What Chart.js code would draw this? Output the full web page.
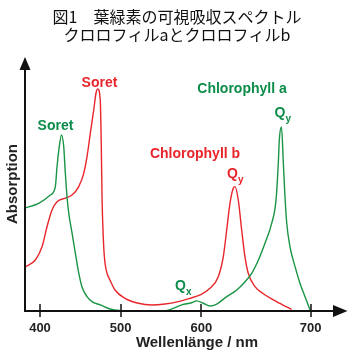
<!DOCTYPE html>
<html><head><meta charset="utf-8">
<script src="https://cdn.jsdelivr.net/npm/chart.js@4/dist/chart.umd.min.js"></script>
<style>html,body{margin:0;padding:0;background:#fff}#wrap{width:354px;height:359px;position:relative}</style>
</head><body><div id="wrap"><canvas id="c"></canvas></div>
<script>
const TITLE_LINES = ['図1　葉緑素の可視吸収スペクトル', 'クロロフィルaとクロロフィルb'];
const X_TICKS = [400, 500, 600, 700];
const X_TITLE = 'Wellenlänge / nm';
const Y_TITLE = 'Absorption';

// Chlorophyll a (green), wavelength in nm / relative absorption
const CHL_A_NM  = [381.4, 398.4, 412.8, 419.0, 421.1, 423.9, 426.7, 429.4, 431.4, 433.5, 435.6, 439.7, 443.8, 448.0, 452.1, 458.3, 464.5, 474.7, 486.8, 511.6, 548.8, 559.0, 575.7, 588.1, 594.3, 601.8, 608.0, 614.1, 623.2, 632.4, 640.0, 646.1, 652.2, 658.2, 664.4, 668.3, 670.4, 671.3, 673.3, 675.0, 676.5, 678.1, 681.1, 685.7, 690.2, 694.8, 699.4];
const CHL_A_ABS = [0.560, 0.585, 0.630, 0.676, 0.784, 0.893, 0.957, 0.893, 0.750, 0.621, 0.533, 0.424, 0.315, 0.207, 0.130, 0.078, 0.051, 0.033, 0.011, 0.0, 0.0, 0.005, 0.033, 0.045, 0.055, 0.042, 0.027, 0.038, 0.078, 0.114, 0.159, 0.205, 0.277, 0.368, 0.477, 0.603, 0.804, 0.929, 1.000, 0.803, 0.621, 0.477, 0.349, 0.241, 0.151, 0.078, 0.005];

// Chlorophyll b (red)
const CHL_B_NM  = [381.6, 394.2, 402.5, 408.7, 414.9, 421.1, 431.4, 439.7, 448.0, 454.2, 458.3, 462.4, 466.6, 469.4, 471.5, 474.7, 476.0, 476.9, 479.0, 480.6, 483.1, 486.8, 493.0, 505.4, 521.9, 538.5, 555.0, 571.4, 586.0, 598.4, 607.9, 615.5, 620.1, 623.2, 626.2, 629.2, 630.8, 633.8, 636.9, 639.9, 642.9, 649.1, 656.7, 665.8, 670.4, 676.0, 682.6];
const CHL_B_ABS = [0.239, 0.277, 0.349, 0.458, 0.549, 0.594, 0.613, 0.630, 0.676, 0.748, 0.839, 0.966, 1.092, 1.183, 1.207, 1.147, 0.893, 0.621, 0.349, 0.261, 0.205, 0.168, 0.114, 0.069, 0.042, 0.033, 0.038, 0.051, 0.069, 0.087, 0.123, 0.186, 0.295, 0.440, 0.585, 0.667, 0.676, 0.603, 0.440, 0.295, 0.205, 0.132, 0.094, 0.061, 0.046, 0.028, 0.009];

// Axis as drawn in the original: the 600–700 nm span is stretched
const AXIS_BREAK_NM  = [400, 600, 700];
const AXIS_BREAK_REL = [0, 200, 335.6];

const GREEN_LINE = '#1a9445', RED_LINE = '#e8262b';
const GREEN_TEXT = '#0b8c48', RED_TEXT = '#e8252b';
const LATIN = '"Liberation Sans", Arial, Helvetica, sans-serif';

function warp(v) {
  const n = AXIS_BREAK_NM, r = AXIS_BREAK_REL;
  const i = v <= n[1] ? 0 : 1;
  return r[i] + (v - n[i]) * (r[i + 1] - r[i]) / (n[i + 1] - n[i]);
}
function unwarp(u) {
  const n = AXIS_BREAK_NM, r = AXIS_BREAK_REL;
  const i = u <= r[1] ? 0 : 1;
  return n[i] + (u - r[i]) * (n[i + 1] - n[i]) / (r[i + 1] - r[i]);
}
class PiecewiseScale extends Chart.LinearScale {
  getPixelForValue(value) {
    const a = warp(this.min), b = warp(this.max);
    return this.getPixelForDecimal((warp(value) - a) / (b - a));
  }
  getValueForPixel(pixel) {
    const a = warp(this.min), b = warp(this.max);
    return unwarp(a + this.getDecimalForPixel(pixel) * (b - a));
  }
}
PiecewiseScale.id = 'piecewise';
PiecewiseScale.defaults = Chart.LinearScale.defaults;
Chart.register(PiecewiseScale);

const pts = (xs, ys) => xs.map((x, i) => ({ x, y: ys[i] }));

const drawPlugin = {
  id: 'drawAxesAndLabels',
  afterDatasetsDraw(chart) {
    const { ctx, chartArea: { left, right, top, bottom }, scales: { x } } = chart;
    ctx.save();
    ctx.strokeStyle = '#111'; ctx.fillStyle = '#111';
    ctx.lineWidth = 2;
    // y axis with arrow
    ctx.beginPath(); ctx.moveTo(left, bottom + 1); ctx.lineTo(left, top + 10); ctx.stroke();
    ctx.beginPath(); ctx.moveTo(left, top); ctx.lineTo(left - 5.5, top + 13); ctx.lineTo(left + 5.5, top + 13); ctx.closePath(); ctx.fill();
    // x axis with arrow
    ctx.beginPath(); ctx.moveTo(left - 1, bottom); ctx.lineTo(right - 18, bottom); ctx.stroke();
    ctx.beginPath(); ctx.moveTo(right - 6.5, bottom); ctx.lineTo(right - 21, bottom - 6); ctx.lineTo(right - 21, bottom + 6); ctx.closePath(); ctx.fill();
    // tick marks
    ctx.lineWidth = 1.5;
    X_TICKS.forEach(v => {
      const px = Math.round(x.getPixelForValue(v));
      ctx.beginPath(); ctx.moveTo(px, bottom - 7); ctx.lineTo(px, bottom + 6); ctx.stroke();
    });
    // x title
    ctx.font = 'bold 15px ' + LATIN;
    ctx.textAlign = 'center'; ctx.textBaseline = 'alphabetic';
    ctx.fillStyle = '#222';
    ctx.fillText(X_TITLE, 197, 347);

    // annotations
    const txt = (s, px, py, color, size, align) => {
      ctx.font = 'bold ' + size + 'px ' + LATIN;
      ctx.fillStyle = color; ctx.textAlign = align || 'center';
      ctx.fillText(s, px, py);
    };
    const q = (sub, px, py, color) => {
      txt('Q', px, py, color, 14, 'left');
      const w = (ctx.font = 'bold 14px ' + LATIN, ctx.measureText('Q').width);
      txt(sub, px + w, py + 4.5, color, 10, 'left');
    };
    txt('Soret', 55.5, 130, GREEN_TEXT, 14);
    txt('Soret', 99.5, 87, RED_TEXT, 14);
    txt('Chlorophyll a', 242, 93, GREEN_TEXT, 14);
    txt('Chlorophyll b', 195, 158, RED_TEXT, 14);
    q('y', 274.5, 117, GREEN_TEXT);
    q('y', 227, 178, RED_TEXT);
    q('x', 175, 290, GREEN_TEXT);
    ctx.restore();
  }
};

new Chart(document.getElementById('c'), {
  type: 'line',
  data: {
    datasets: [
      { label: 'Chlorophyll a', data: pts(CHL_A_NM, CHL_A_ABS), borderColor: GREEN_LINE, borderWidth: 1.4, pointRadius: 0, fill: false, cubicInterpolationMode: 'monotone' },
      { label: 'Chlorophyll b', data: pts(CHL_B_NM, CHL_B_ABS), borderColor: RED_LINE, borderWidth: 1.4, pointRadius: 0, fill: false, cubicInterpolationMode: 'monotone' }
    ]
  },
  options: {
    responsive: true,
    maintainAspectRatio: false,
    animation: false,
    devicePixelRatio: 1,
    layout: { padding: 0 },
    plugins: {
      legend: { display: false },
      tooltip: { enabled: false },
      title: {
        display: true,
        text: TITLE_LINES,
        color: '#111',
        font: { family: '"Noto Sans CJK JP", sans-serif', size: 16, weight: 'normal', lineHeight: 1.125 },
        padding: { top: 8, bottom: 13 }
      }
    },
    scales: {
      x: {
        type: 'piecewise',
        min: 381.4,
        max: 739.6,
        grid: { display: false, drawTicks: false },
        border: { display: false },
        afterBuildTicks: s => { s.ticks = X_TICKS.map(v => ({ value: v })); },
        afterFit: s => { s.height = 48; },
        ticks: {
          autoSkip: false, maxRotation: 0, padding: 10,
          color: '#222',
          font: { family: LATIN, size: 13, weight: 'bold' },
          callback: v => String(v)
        }
      },
      y: {
        min: 0,
        max: 1.38,
        grid: { display: false, drawTicks: false },
        border: { display: false },
        ticks: { display: false },
        afterFit: s => { s.width = 25; },
        title: {
          display: true, text: Y_TITLE, color: '#222',
          font: { family: LATIN, size: 15, weight: 'bold' },
          padding: { top: 4, bottom: 0 }
        }
      }
    }
  },
  plugins: [drawPlugin]
});
</script>
</body></html>
